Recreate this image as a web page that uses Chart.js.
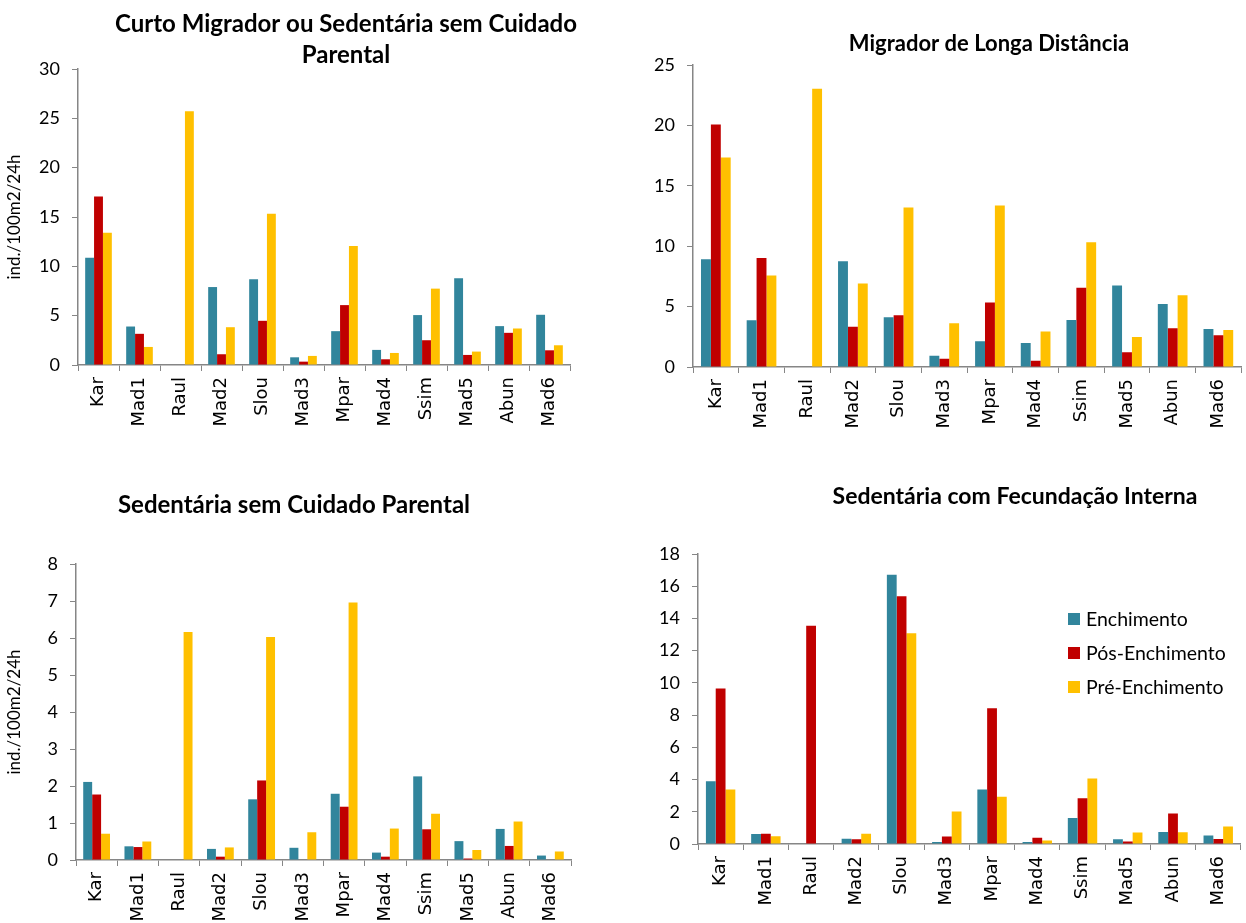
<!DOCTYPE html>
<html>
<head>
<meta charset="utf-8">
<script src="https://cdn.jsdelivr.net/npm/chart.js@4"></script>
<style>
  html, body { margin: 0; padding: 0; background: #fff; }
  #wrap { position: relative; width: 1246px; height: 923px; overflow: hidden; }
  canvas { position: absolute; }
</style>
</head>
<body>
<div id="wrap">
  <canvas id="c1" width="623" height="460" style="left:0;top:0"></canvas>
  <canvas id="c2" width="623" height="460" style="left:623px;top:0"></canvas>
  <canvas id="c3" width="623" height="463" style="left:0;top:460px"></canvas>
  <canvas id="c4" width="623" height="463" style="left:623px;top:460px"></canvas>
</div>
<script>
// Sampling sites (x axis of every panel)
const categories = ['Kar', 'Mad1', 'Raul', 'Mad2', 'Slou', 'Mad3', 'Mpar', 'Mad4', 'Ssim', 'Mad5', 'Abun', 'Mad6'];

// Reservoir phases
const seriesNames = ['Enchimento', 'Pós-Enchimento', 'Pré-Enchimento'];
const seriesColors = ['#31859C', '#C00000', '#FFC000'];

const yAxisTitle = 'ind./100m2/24h';

// Curto Migrador ou Sedentária sem Cuidado Parental
const curtoEnchimento    = [10.86, 3.90, 0, 7.90, 8.69, 0.78, 3.43, 1.53, 5.06, 8.79, 3.94, 5.09];
const curtoPosEnchimento = [17.07, 3.16, 0, 1.09, 4.48, 0.34, 6.07, 0.58, 2.51, 1.02, 3.26, 1.49];
const curtoPreEnchimento = [13.40, 1.83, 25.72, 3.83, 15.34, 0.92, 12.05, 1.22, 7.74, 1.36, 3.70, 2.00];
const curtoTicks = { max: 30, step: 5 };

// Migrador de Longa Distância
const longaEnchimento    = [8.92, 3.87, 0, 8.76, 4.12, 0.94, 2.13, 1.99, 3.90, 6.74, 5.22, 3.15];
const longaPosEnchimento = [20.08, 9.03, 0, 3.34, 4.28, 0.69, 5.33, 0.52, 6.57, 1.22, 3.20, 2.62];
const longaPreEnchimento = [17.35, 7.57, 23.04, 6.91, 13.20, 3.62, 13.37, 2.93, 10.33, 2.49, 5.94, 3.07];
const longaTicks = { max: 25, step: 5 };

// Sedentária sem Cuidado Parental
const semCuidadoEnchimento    = [2.11, 0.37, 0, 0.30, 1.64, 0.33, 1.79, 0.20, 2.26, 0.51, 0.84, 0.12];
const semCuidadoPosEnchimento = [1.77, 0.35, 0, 0.09, 2.15, 0, 1.44, 0.09, 0.83, 0.04, 0.38, 0];
const semCuidadoPreEnchimento = [0.71, 0.50, 6.16, 0.34, 6.03, 0.75, 6.96, 0.85, 1.25, 0.27, 1.04, 0.23];
const semCuidadoTicks = { max: 8, step: 1 };

// Sedentária com Fecundação Interna
const fecundacaoEnchimento    = [3.90, 0.62, 0, 0.33, 16.71, 0.12, 3.38, 0.12, 1.62, 0.29, 0.75, 0.52];
const fecundacaoPosEnchimento = [9.65, 0.64, 13.54, 0.29, 15.38, 0.46, 8.43, 0.39, 2.84, 0.15, 1.89, 0.31];
const fecundacaoPreEnchimento = [3.38, 0.48, 0, 0.64, 13.08, 2.01, 2.93, 0.21, 4.07, 0.71, 0.73, 1.08];
const fecundacaoTicks = { max: 18, step: 2 };

const axisGray = '#868686';
Chart.defaults.color = '#000';
Chart.defaults.animation = false;

// Draws the panel heading (and optionally a legend box) at fixed spots on the canvas
const panelText = {
  id: 'panelText',
  afterDraw(chart, args, opts) {
    const ctx = chart.ctx;
    ctx.save();
    ctx.fillStyle = '#000';
    ctx.textAlign = 'center';
    ctx.textBaseline = 'middle';
    ctx.font = opts.font;
    opts.lines.forEach((t, i) => ctx.fillText(t, opts.x, opts.y + i * opts.lineGap));
    if (opts.legend) {
      const lg = opts.legend;
      ctx.textAlign = 'left';
      ctx.font = lg.font;
      chart.data.datasets.forEach((ds, i) => {
        const cy = lg.y + i * lg.gap;
        ctx.fillStyle = ds.backgroundColor;
        ctx.fillRect(lg.x, cy - lg.box / 2, lg.box, lg.box);
        ctx.fillStyle = '#000';
        ctx.fillText(ds.label, lg.x + lg.box + 6, cy + 1);
      });
    }
    ctx.restore();
  }
};

function makeDatasets(a, b, c) {
  return [a, b, c].map((data, i) => ({
    label: seriesNames[i],
    data: data,
    backgroundColor: seriesColors[i],
    borderWidth: 0,
    categoryPercentage: 0.65,
    barPercentage: 1.0
  }));
}

function makeChart(id, datasets, ticksCfg, geo, title) {
  return new Chart(document.getElementById(id), {
    type: 'bar',
    data: { labels: categories, datasets: datasets },
    plugins: [panelText],
    options: {
      responsive: false,
      animation: false,
      layout: { padding: { left: 0, top: geo.top, right: geo.right, bottom: 0 } },
      plugins: {
        legend: { display: false },
        tooltip: { enabled: false },
        title: { display: false },
        panelText: title
      },
      scales: {
        x: {
          offset: true,
          grid: { display: true, drawOnChartArea: false, drawTicks: true, tickLength: 6, color: axisGray, offset: true },
          border: { display: true, color: axisGray, width: 1.5 },
          ticks: {
            autoSkip: false, minRotation: 90, maxRotation: 90, padding: 6,
            color: '#000', font: { family: 'DejaVu Sans', size: 18 }
          },
          afterFit(s) { s.height = geo.xHeight; }
        },
        y: {
          min: 0, max: ticksCfg.max,
          grid: { display: true, drawOnChartArea: false, drawTicks: true, tickLength: 6, color: axisGray },
          border: { display: true, color: axisGray, width: 1.5 },
          ticks: { stepSize: ticksCfg.step, padding: 12, color: '#000', font: { family: 'Lato', size: 18 } },
          title: geo.yTitle
            ? { display: true, text: yAxisTitle, color: '#000', font: { family: 'Lato', size: 17 }, padding: { top: 4, bottom: 0 } }
            : { display: false },
          afterFit(s) { s.width = geo.yWidth; }
        }
      }
    }
  });
}

makeChart('c1',
  makeDatasets(curtoEnchimento, curtoPosEnchimento, curtoPreEnchimento),
  curtoTicks,
  { top: 69, right: 53, xHeight: 95, yWidth: 78, yTitle: true },
  { font: 'bold 24px Lato', lines: ['Curto Migrador ou Sedentária sem Cuidado', 'Parental'], x: 346, y: 24, lineGap: 31 });

makeChart('c2',
  makeDatasets(longaEnchimento, longaPosEnchimento, longaPreEnchimento),
  longaTicks,
  { top: 65, right: 1, xHeight: 93, yWidth: 70, yTitle: false },
  { font: 'bold 22px Lato', lines: ['Migrador de Longa Distância'], x: 366, y: 44, lineGap: 31 });

makeChart('c3',
  makeDatasets(semCuidadoEnchimento, semCuidadoPosEnchimento, semCuidadoPreEnchimento),
  semCuidadoTicks,
  { top: 104, right: 52, xHeight: 63, yWidth: 76, yTitle: true },
  { font: 'bold 24px Lato', lines: ['Sedentária sem Cuidado Parental'], x: 294, y: 45, lineGap: 31 });

makeChart('c4',
  makeDatasets(fecundacaoEnchimento, fecundacaoPosEnchimento, fecundacaoPreEnchimento),
  fecundacaoTicks,
  { top: 94, right: 4, xHeight: 79, yWidth: 75, yTitle: false },
  { font: 'bold 23px Lato', lines: ['Sedentária com Fecundação Interna'], x: 392, y: 37, lineGap: 31,
    legend: { x: 445, y: 159, gap: 34, box: 12, font: '19.5px Lato' } });
</script>
</body>
</html>
